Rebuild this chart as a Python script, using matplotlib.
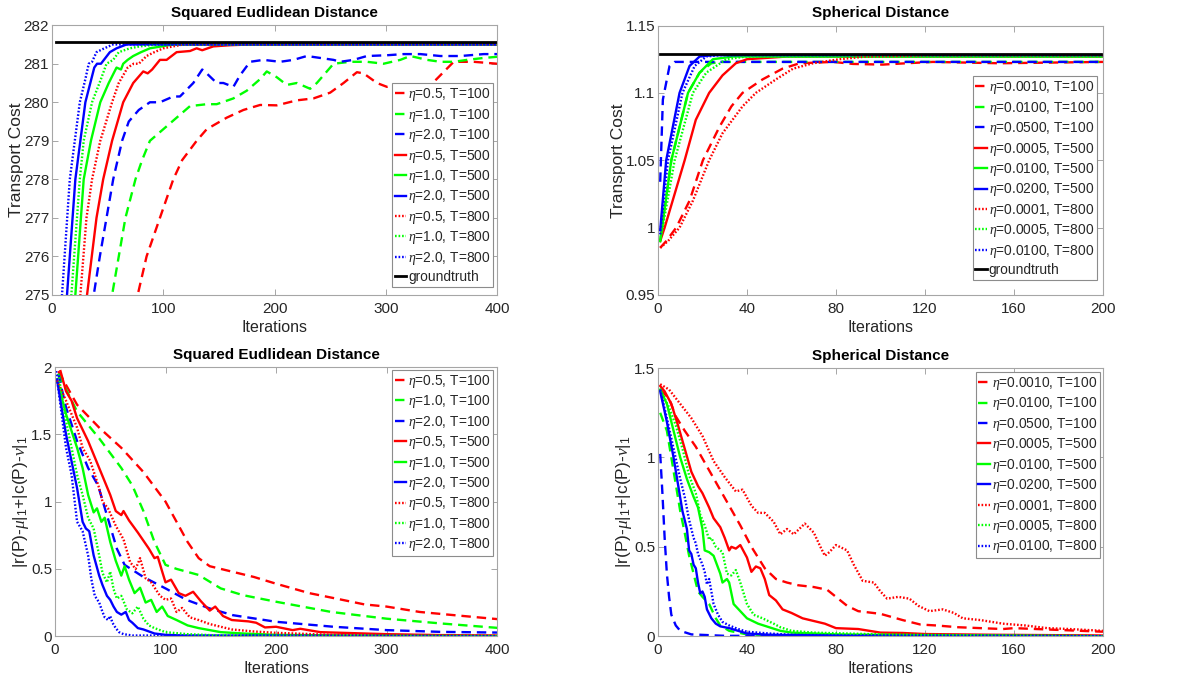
import matplotlib
matplotlib.use("Agg")
import matplotlib.pyplot as plt

# ---------------- Top-left: Squared Euclidean, transport cost ----------------
tl_gt = 281.56
tl_labels = [r"$\eta$=0.5, T=100", r"$\eta$=1.0, T=100", r"$\eta$=2.0, T=100",
             r"$\eta$=0.5, T=500", r"$\eta$=1.0, T=500", r"$\eta$=2.0, T=500",
             r"$\eta$=0.5, T=800", r"$\eta$=1.0, T=800", r"$\eta$=2.0, T=800"]

tl_red_dash_x = [70, 77, 85, 97, 109, 117, 130, 139, 157, 172, 187, 202, 220, 235, 250, 262, 274, 280, 292, 301, 310, 325, 337, 349, 361, 379, 400]
tl_red_dash_y = [273.5, 275.0, 276.0, 277.0, 278.0, 278.5, 279.0, 279.3, 279.6, 279.8, 279.93, 279.92, 280.05, 280.1, 280.25, 280.5, 280.78, 280.75, 280.5, 280.4, 280.45, 280.35, 280.35, 280.7, 281.05, 281.05, 281.0]
tl_green_dash_x = [48, 54, 60, 66, 75, 81, 88, 100, 112, 124, 139, 148, 163, 175, 187, 193, 202, 211, 220, 232, 238, 253, 268, 283, 298, 313, 322, 337, 349, 361, 373, 388, 400]
tl_green_dash_y = [273.5, 275.0, 276.0, 277.0, 278.0, 278.5, 279.0, 279.3, 279.6, 279.9, 279.95, 279.95, 280.1, 280.3, 280.6, 280.8, 280.65, 280.45, 280.5, 280.35, 280.5, 281.0, 281.05, 281.05, 281.0, 281.1, 281.2, 281.1, 281.05, 281.05, 281.1, 281.15, 281.18]
tl_blue_dash_x = [32, 37.5, 43, 49, 55, 63, 69, 78, 88, 97, 109, 115, 127, 135, 139, 148, 154, 163, 169, 178, 190, 205, 217, 229, 241, 253, 259, 271, 283, 301, 316, 331, 349, 367, 388, 400]
tl_blue_dash_y = [273.5, 275.0, 276.0, 277.0, 278.0, 279.0, 279.5, 279.8, 280.0, 280.0, 280.15, 280.15, 280.5, 280.85, 280.75, 280.5, 280.5, 280.4, 280.7, 281.05, 281.1, 281.05, 281.1, 281.2, 281.15, 281.1, 281.05, 281.1, 281.2, 281.22, 281.25, 281.25, 281.2, 281.2, 281.25, 281.25]
tl_red_solid_x = [27, 31.5, 40, 46, 54, 64, 73, 82, 86, 90, 97, 103, 112, 124, 130, 135, 145, 160, 178, 400]
tl_red_solid_y = [272.5, 275.0, 277.0, 278.0, 279.0, 280.0, 280.5, 280.8, 280.75, 280.85, 281.1, 281.1, 281.3, 281.33, 281.4, 281.35, 281.45, 281.48, 281.5, 281.5]
tl_green_solid_x = [17, 21, 28.5, 35, 43.4, 51, 58, 62, 64, 68, 73, 80, 88, 109, 400]
tl_green_solid_y = [272.5, 275.0, 278.0, 279.0, 280.0, 280.5, 280.9, 280.85, 281.0, 281.1, 281.2, 281.3, 281.4, 281.5, 281.5]
tl_blue_solid_x = [10, 13.5, 21, 30, 38, 40.5, 44, 48, 52, 58, 67, 400]
tl_blue_solid_y = [272.5, 275.0, 278.0, 280.0, 280.9, 281.0, 281.0, 281.15, 281.3, 281.4, 281.5, 281.5]
tl_red_dot_x = [22, 25.5, 31, 36, 43.4, 54, 60, 68, 73.4, 78, 85, 92, 100, 118, 400]
tl_red_dot_y = [272.5, 275.0, 277.0, 278.0, 279.0, 280.0, 280.5, 280.9, 281.0, 281.0, 281.2, 281.3, 281.4, 281.5, 281.5]
tl_green_dot_x = [14, 17.4, 25, 28.5, 36, 44, 49, 55, 60, 70, 79, 94, 400]
tl_green_dot_y = [272.5, 275.0, 278.0, 279.0, 280.0, 280.6, 281.0, 281.1, 281.3, 281.4, 281.45, 281.5, 281.5]
tl_blue_dot_x = [6, 9, 16, 25, 30, 33, 36, 40, 47, 55, 400]
tl_blue_dot_y = [272.5, 275.0, 278.0, 280.0, 280.6, 281.0, 281.05, 281.3, 281.4, 281.5, 281.5]

# ---------------- Top-right: Spherical, transport cost ----------------
tr_gt = 1.129
tr_labels = [r"$\eta$=0.0010, T=100", r"$\eta$=0.0100, T=100", r"$\eta$=0.0500, T=100",
             r"$\eta$=0.0005, T=500", r"$\eta$=0.0100, T=500", r"$\eta$=0.0200, T=500",
             r"$\eta$=0.0001, T=800", r"$\eta$=0.0005, T=800", r"$\eta$=0.0100, T=800"]

tr_red_dash_x = [1, 3.7, 8.2, 14.2, 20.2, 27.7, 33, 38, 47, 56, 63.7, 78.7, 87.6, 101, 111.6, 123.6, 153.6, 200]
tr_red_dash_y = [0.985, 0.99, 1.0, 1.02, 1.05, 1.075, 1.09, 1.1, 1.11, 1.118, 1.122, 1.123, 1.1215, 1.121, 1.122, 1.123, 1.122, 1.123]
tr_green_dash_x = [1, 6, 13.5, 18.7, 24, 28, 200]
tr_green_dash_y = [0.99, 1.05, 1.1, 1.115, 1.122, 1.123, 1.123]
tr_blue_dash_x = [1, 2.2, 5.2, 7.5, 200]
tr_blue_dash_y = [1.034, 1.095, 1.12, 1.123, 1.123]
tr_red_solid_x = [1, 3, 12, 17, 23, 29, 35, 40, 58, 200]
tr_red_solid_y = [0.99, 1.0, 1.05, 1.08, 1.1, 1.113, 1.122, 1.125, 1.127, 1.127]
tr_green_solid_x = [1, 6, 13.5, 18.7, 24.7, 33.7, 200]
tr_green_solid_y = [0.99, 1.05, 1.1, 1.115, 1.125, 1.127, 1.127]
tr_blue_solid_x = [1, 3.7, 9.7, 14.2, 18.7, 25, 200]
tr_blue_solid_y = [0.998, 1.05, 1.1, 1.12, 1.127, 1.128, 1.128]
tr_red_dot_x = [1, 4.5, 9.7, 15.7, 23, 29, 38, 44, 53, 60.7, 69.7, 81.6, 93.6, 123.6, 200]
tr_red_dot_y = [0.985, 0.99, 1.0, 1.02, 1.05, 1.07, 1.09, 1.1, 1.11, 1.118, 1.122, 1.125, 1.127, 1.128, 1.128]
tr_green_dot_x = [1, 7.5, 15.7, 21.7, 30.7, 39.7, 200]
tr_green_dot_y = [0.99, 1.05, 1.1, 1.115, 1.125, 1.127, 1.127]
tr_blue_dot_x = [1, 4.5, 11, 16.5, 21.7, 28, 200]
tr_blue_dot_y = [0.995, 1.05, 1.1, 1.12, 1.127, 1.128, 1.128]

# ---------------- Bottom-left: Squared Euclidean, marginal error ----------------
bl_red_dash_x = [3, 20, 40, 60, 80, 100, 120, 130, 140, 160, 180, 200, 230, 260, 280, 300, 330, 360, 400]
bl_red_dash_y = [1.97, 1.72, 1.55, 1.40, 1.22, 1.0, 0.70, 0.58, 0.52, 0.48, 0.44, 0.39, 0.32, 0.27, 0.236, 0.22, 0.18, 0.157, 0.127]
bl_green_dash_x = [3, 20, 40, 60, 70, 80, 90, 100, 110, 130, 150, 170, 200, 250, 300, 350, 400]
bl_green_dash_y = [1.95, 1.67, 1.47, 1.25, 1.12, 0.93, 0.70, 0.53, 0.50, 0.455, 0.355, 0.305, 0.256, 0.18, 0.13, 0.094, 0.062]
bl_blue_dash_x = [3, 10, 20, 30, 39, 56, 63, 80, 100, 119, 140, 161, 200, 252, 300, 349, 400]
bl_blue_dash_y = [1.95, 1.70, 1.45, 1.25, 1.12, 0.65, 0.53, 0.44, 0.355, 0.27, 0.206, 0.156, 0.107, 0.07, 0.045, 0.032, 0.027]
bl_red_solid_x = [5, 10, 15, 20, 30, 40, 50, 55, 60, 62, 67, 75, 85, 90, 93, 97, 100, 105, 112, 118, 125, 132, 140, 145, 152, 160, 175, 182, 190, 200, 215, 222, 240, 260, 300, 350, 400]
bl_red_solid_y = [1.97, 1.82, 1.75, 1.62, 1.45, 1.25, 1.05, 0.93, 0.90, 0.93, 0.86, 0.77, 0.65, 0.58, 0.59, 0.48, 0.40, 0.42, 0.32, 0.30, 0.33, 0.26, 0.19, 0.22, 0.15, 0.12, 0.11, 0.10, 0.065, 0.07, 0.045, 0.055, 0.03, 0.025, 0.015, 0.008, 0.005]
bl_green_solid_x = [2, 10, 20, 25, 30, 35, 38, 42, 45, 50, 55, 60, 63, 67, 72, 77, 82, 87, 92, 97, 102, 110, 115, 120, 130, 140, 150, 170, 200, 300, 400]
bl_green_solid_y = [1.90, 1.65, 1.40, 1.25, 1.05, 0.92, 0.95, 0.85, 0.88, 0.70, 0.56, 0.45, 0.52, 0.42, 0.32, 0.36, 0.25, 0.27, 0.18, 0.22, 0.15, 0.12, 0.10, 0.08, 0.06, 0.045, 0.03, 0.02, 0.01, 0.003, 0.001]
bl_blue_solid_x = [2, 10, 15, 20, 25, 28, 31, 35, 40, 43, 47, 50, 53, 56, 60, 64, 67, 70, 75, 80, 85, 90, 100, 120, 400]
bl_blue_solid_y = [1.90, 1.50, 1.30, 1.10, 0.85, 0.80, 0.78, 0.60, 0.45, 0.38, 0.30, 0.27, 0.22, 0.18, 0.16, 0.18, 0.12, 0.10, 0.06, 0.05, 0.035, 0.02, 0.01, 0.004, 0.0]
bl_red_dot_x = [2, 10, 20, 25, 32, 40, 43, 48, 55, 62, 68, 73, 77, 82, 87, 95, 100, 105, 110, 115, 122, 130, 140, 160, 180, 200, 250, 300, 400]
bl_red_dot_y = [1.90, 1.75, 1.55, 1.40, 1.30, 1.10, 1.0, 0.95, 0.82, 0.72, 0.55, 0.50, 0.58, 0.43, 0.40, 0.30, 0.27, 0.28, 0.18, 0.21, 0.14, 0.12, 0.09, 0.05, 0.035, 0.025, 0.01, 0.005, 0.002]
bl_green_dot_x = [3, 10, 15, 20, 25, 30, 35, 40, 43, 47, 50, 53, 56, 60, 65, 70, 75, 80, 85, 90, 100, 120, 150, 200, 400]
bl_green_dot_y = [1.95, 1.60, 1.40, 1.20, 1.05, 0.88, 0.80, 0.60, 0.47, 0.40, 0.48, 0.35, 0.28, 0.30, 0.20, 0.17, 0.22, 0.13, 0.08, 0.06, 0.03, 0.015, 0.005, 0.002, 0.0]
bl_blue_dot_x = [1, 10, 15, 20, 25, 30, 33, 36, 40, 43, 45, 48, 50, 52, 55, 58, 62, 70, 400]
bl_blue_dot_y = [1.97, 1.40, 1.20, 0.85, 0.78, 0.60, 0.42, 0.30, 0.25, 0.18, 0.14, 0.12, 0.15, 0.10, 0.06, 0.03, 0.015, 0.005, 0.0]

# ---------------- Bottom-right: Spherical, marginal error ----------------
br_red_dash_x = [1, 5, 8, 12, 17, 22, 27, 32, 37, 42, 48, 53, 58, 63, 70, 76, 80, 85, 90, 100, 110, 118, 125, 135, 145, 155, 160, 170, 180, 190, 200]
br_red_dash_y = [1.38, 1.33, 1.23, 1.15, 1.06, 0.95, 0.84, 0.73, 0.62, 0.50, 0.38, 0.32, 0.30, 0.285, 0.275, 0.26, 0.22, 0.17, 0.14, 0.125, 0.09, 0.065, 0.06, 0.05, 0.045, 0.04, 0.045, 0.04, 0.035, 0.03, 0.025]
br_green_dash_x = [1, 4, 6, 8, 10, 12, 14, 16, 18, 20, 23, 26, 28, 32, 40, 60, 200]
br_green_dash_y = [1.25, 1.15, 1.00, 0.85, 0.70, 0.58, 0.45, 0.35, 0.25, 0.22, 0.18, 0.10, 0.06, 0.03, 0.01, 0.003, 0.0]
br_blue_dash_x = [1, 2, 3, 4, 5, 6, 8, 10, 15, 30, 200]
br_blue_dash_y = [1.02, 0.80, 0.55, 0.35, 0.22, 0.12, 0.06, 0.03, 0.01, 0.002, 0.0]
br_red_solid_x = [1, 3, 6, 9, 12, 15, 18, 20, 23, 25, 28, 30, 32, 33, 35, 37, 40, 42, 44, 46, 48, 50, 53, 56, 60, 65, 70, 75, 80, 90, 100, 110, 120, 150, 200]
br_red_solid_y = [1.40, 1.37, 1.30, 1.18, 1.05, 0.92, 0.84, 0.80, 0.72, 0.66, 0.61, 0.55, 0.48, 0.50, 0.49, 0.51, 0.44, 0.36, 0.39, 0.38, 0.32, 0.23, 0.20, 0.15, 0.13, 0.10, 0.085, 0.07, 0.045, 0.04, 0.02, 0.018, 0.012, 0.008, 0.004]
br_green_solid_x = [1, 4, 7, 10, 13, 16, 18, 20, 21, 23, 25, 28, 29, 31, 32, 34, 37, 40, 45, 50, 55, 60, 80, 120, 200]
br_green_solid_y = [1.38, 1.30, 1.15, 1.0, 0.88, 0.78, 0.72, 0.60, 0.48, 0.47, 0.45, 0.35, 0.30, 0.32, 0.30, 0.18, 0.14, 0.10, 0.07, 0.05, 0.03, 0.02, 0.01, 0.005, 0.0]
br_blue_solid_x = [1, 4, 7, 9, 11, 13, 14, 15, 16, 17, 18, 19, 20, 21, 22, 24, 26, 28, 32, 36, 40, 50, 80, 200]
br_blue_solid_y = [1.37, 1.20, 1.00, 0.85, 0.70, 0.60, 0.48, 0.46, 0.40, 0.38, 0.30, 0.24, 0.25, 0.22, 0.15, 0.10, 0.07, 0.055, 0.045, 0.03, 0.015, 0.008, 0.003, 0.0]
br_red_dot_x = [1, 5, 10, 15, 20, 25, 30, 35, 38, 42, 45, 48, 52, 55, 58, 61, 66, 70, 73, 75, 77, 80, 85, 88, 92, 97, 100, 103, 108, 113, 117, 122, 128, 133, 137, 145, 155, 165, 175, 185, 200]
br_red_dot_y = [1.41, 1.38, 1.30, 1.22, 1.12, 0.98, 0.89, 0.81, 0.82, 0.73, 0.69, 0.69, 0.64, 0.57, 0.60, 0.57, 0.63, 0.58, 0.50, 0.45, 0.47, 0.51, 0.48, 0.40, 0.31, 0.30, 0.25, 0.21, 0.22, 0.21, 0.17, 0.14, 0.15, 0.13, 0.10, 0.09, 0.07, 0.06, 0.045, 0.04, 0.03]
br_green_dot_x = [1, 5, 8, 11, 14, 17, 19, 21, 23, 24, 26, 29, 31, 33, 35, 37, 40, 43, 47, 52, 55, 60, 70, 100, 150, 200]
br_green_dot_y = [1.38, 1.28, 1.18, 1.05, 0.90, 0.80, 0.68, 0.62, 0.54, 0.55, 0.50, 0.47, 0.35, 0.34, 0.37, 0.30, 0.18, 0.12, 0.10, 0.07, 0.05, 0.03, 0.02, 0.01, 0.004, 0.0]
br_blue_dot_x = [1, 4, 7, 10, 12, 14, 16, 17, 18, 20, 21, 22, 23, 24, 25, 27, 29, 32, 36, 40, 50, 60, 80, 200]
br_blue_dot_y = [1.38, 1.22, 1.05, 0.88, 0.78, 0.65, 0.55, 0.52, 0.46, 0.40, 0.36, 0.29, 0.32, 0.25, 0.18, 0.12, 0.08, 0.06, 0.04, 0.025, 0.015, 0.008, 0.004, 0.0]

# ---------------- styling ----------------
plt.rcParams['font.family'] = ['Liberation Sans', 'DejaVu Sans']
plt.rcParams['mathtext.fontset'] = 'custom'
plt.rcParams['mathtext.it'] = 'Liberation Serif:italic'
plt.rcParams['mathtext.rm'] = 'Liberation Sans'

RED, GREEN, BLUE = (1, 0, 0), (0, 1, 0), (0, 0, 1)
LW = 1.7
DASH = (4.0, 2.5)
DOT = (0.7, 0.8)
SPINE = '#a6a6a6'
TXT = '#262626'

fig = plt.figure(figsize=(11.95, 6.90), dpi=100)
ax_tl = fig.add_axes([0.0435, 0.5725, 0.3725, 0.391])
ax_tr = fig.add_axes([0.5506, 0.5725, 0.3724, 0.3905])
ax_bl = fig.add_axes([0.0460, 0.0780, 0.3700, 0.3900])
ax_br = fig.add_axes([0.5506, 0.0780, 0.3724, 0.3885])


def draw(ax, curves, labels):
    styles = [(RED, DASH), (GREEN, DASH), (BLUE, DASH),
              (RED, None), (GREEN, None), (BLUE, None),
              (RED, DOT), (GREEN, DOT), (BLUE, DOT)]
    for (x, y), (c, d), lab in zip(curves, styles, labels):
        line, = ax.plot(x, y, color=c, lw=LW, label=lab)
        if d is not None:
            line.set_dashes(d)


def style(ax, title, ylabel):
    for s in ax.spines.values():
        s.set_color(SPINE)
        s.set_linewidth(0.8)
    ax.tick_params(direction='in', top=True, right=True, length=4.5,
                   width=0.7, color=SPINE, labelsize=11, labelcolor=TXT)
    ax.tick_params(axis='y', pad=2)
    ax.tick_params(axis='x', pad=5)
    ax.set_title(title, fontsize=11, fontweight='bold', color='black', pad=6)
    ax.set_xlabel('Iterations', fontsize=11.5, color=TXT, labelpad=3)
    ax.set_ylabel(ylabel, fontsize=12.5, color=TXT, labelpad=0)


def legend(ax, loc, anchor):
    leg = ax.legend(loc=loc, bbox_to_anchor=anchor, bbox_transform=ax.transAxes,
                    fontsize=9.9, handlelength=0.85, handletextpad=0.12,
                    labelspacing=0.25, borderpad=0.2, borderaxespad=0,
                    fancybox=False, framealpha=1, edgecolor='#8c8c8c')
    leg.get_frame().set_linewidth(0.8)
    for t in leg.get_texts():
        t.set_color(TXT)


# Top-left
draw(ax_tl, [(tl_red_dash_x, tl_red_dash_y), (tl_green_dash_x, tl_green_dash_y), (tl_blue_dash_x, tl_blue_dash_y),
             (tl_red_solid_x, tl_red_solid_y), (tl_green_solid_x, tl_green_solid_y), (tl_blue_solid_x, tl_blue_solid_y),
             (tl_red_dot_x, tl_red_dot_y), (tl_green_dot_x, tl_green_dot_y), (tl_blue_dot_x, tl_blue_dot_y)], tl_labels)
ax_tl.axhline(tl_gt, xmin=0.01, xmax=1, color='black', lw=2.0, label='groundtruth')
ax_tl.set_xlim(0, 400)
ax_tl.set_ylim(275, 282)
ax_tl.set_xticks([0, 100, 200, 300, 400])
ax_tl.set_yticks([275, 276, 277, 278, 279, 280, 281, 282])
style(ax_tl, 'Squared Eudlidean Distance', 'Transport Cost')
legend(ax_tl, 'lower right', (0.991, 0.03))

# Top-right
draw(ax_tr, [(tr_red_dash_x, tr_red_dash_y), (tr_green_dash_x, tr_green_dash_y), (tr_blue_dash_x, tr_blue_dash_y),
             (tr_red_solid_x, tr_red_solid_y), (tr_green_solid_x, tr_green_solid_y), (tr_blue_solid_x, tr_blue_solid_y),
             (tr_red_dot_x, tr_red_dot_y), (tr_green_dot_x, tr_green_dot_y), (tr_blue_dot_x, tr_blue_dot_y)], tr_labels)
ax_tr.axhline(tr_gt, xmin=0.005, xmax=0.995, color='black', lw=2.0, label='groundtruth')
ax_tr.set_xlim(0, 200)
ax_tr.set_ylim(0.95, 1.15)
ax_tr.set_xticks([0, 40, 80, 120, 160, 200])
ax_tr.set_yticks([0.95, 1.0, 1.05, 1.1, 1.15])
ax_tr.set_yticklabels(['0.95', '1', '1.05', '1.1', '1.15'])
style(ax_tr, 'Spherical Distance', 'Transport Cost')
legend(ax_tr, 'lower right', (0.9865, 0.056))

ylab_err = r'|r(P)-$\mu$|$_1$+|c(P)-$\nu$|$_1$'

# Bottom-left
draw(ax_bl, [(bl_red_dash_x, bl_red_dash_y), (bl_green_dash_x, bl_green_dash_y), (bl_blue_dash_x, bl_blue_dash_y),
             (bl_red_solid_x, bl_red_solid_y), (bl_green_solid_x, bl_green_solid_y), (bl_blue_solid_x, bl_blue_solid_y),
             (bl_red_dot_x, bl_red_dot_y), (bl_green_dot_x, bl_green_dot_y), (bl_blue_dot_x, bl_blue_dot_y)], tl_labels)
ax_bl.set_xlim(0, 400)
ax_bl.set_ylim(0, 2)
ax_bl.set_xticks([0, 100, 200, 300, 400])
ax_bl.set_yticks([0, 0.5, 1, 1.5, 2])
ax_bl.set_yticklabels(['0', '0.5', '1', '1.5', '2'])
style(ax_bl, 'Squared Eudlidean Distance', ylab_err)
legend(ax_bl, 'upper right', (0.991, 0.989))

# Bottom-right
draw(ax_br, [(br_red_dash_x, br_red_dash_y), (br_green_dash_x, br_green_dash_y), (br_blue_dash_x, br_blue_dash_y),
             (br_red_solid_x, br_red_solid_y), (br_green_solid_x, br_green_solid_y), (br_blue_solid_x, br_blue_solid_y),
             (br_red_dot_x, br_red_dot_y), (br_green_dot_x, br_green_dot_y), (br_blue_dot_x, br_blue_dot_y)], tr_labels)
ax_br.set_xlim(0, 200)
ax_br.set_ylim(0, 1.5)
ax_br.set_xticks([0, 40, 80, 120, 160, 200])
ax_br.set_yticks([0, 0.5, 1, 1.5])
ax_br.set_yticklabels(['0', '0.5', '1', '1.5'])
style(ax_br, 'Spherical Distance', ylab_err)
legend(ax_br, 'upper right', (0.993, 0.985))

fig.savefig('out.png', dpi=100, facecolor='white')
